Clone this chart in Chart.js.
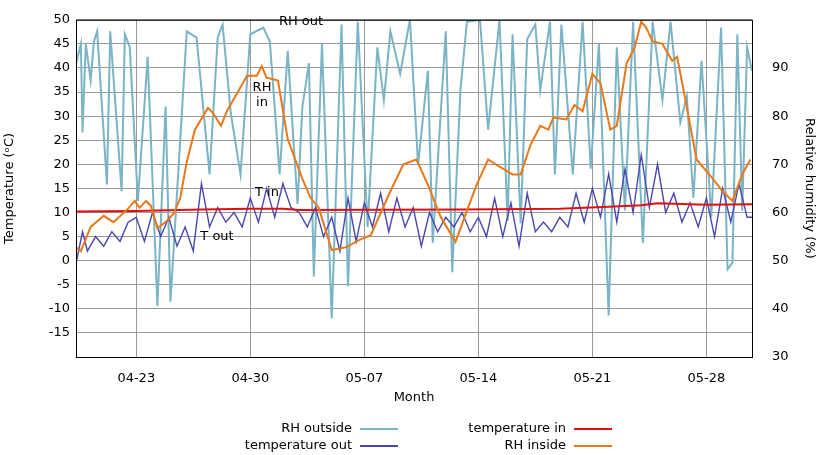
<!DOCTYPE html>
<html>
<head>
<meta charset="utf-8">
<script src="https://cdn.jsdelivr.net/npm/chart.js@4"></script>
<style>
  body { margin: 0; background: #fff; font-family: "DejaVu Sans", sans-serif; }
  #wrap { position: relative; width: 819px; height: 455px; }
  .leg { position: absolute; font-size: 13px; color: #000; }
  .leg span.t { position: absolute; right: 0; white-space: nowrap; }
  .leg span.l { position: absolute; height: 2px; width: 38px; }
</style>
</head>
<body>
<div id="wrap">
  <canvas id="c" width="819" height="455"></canvas>
  <div class="leg" style="left:0;top:420px;width:352px"><span class="t">RH outside</span></div>
  <div class="leg" style="left:0;top:437px;width:352px"><span class="t">temperature out</span></div>
  <div class="leg" style="left:0;top:420px;width:566px"><span class="t">temperature in</span></div>
  <div class="leg" style="left:0;top:437px;width:566px"><span class="t">RH inside</span></div>
  <div class="leg" style="left:360px;top:428px"><span class="l" style="background:#7ab4c6"></span></div>
  <div class="leg" style="left:360px;top:445px"><span class="l" style="background:#4848b0"></span></div>
  <div class="leg" style="left:574px;top:428px"><span class="l" style="background:#e01010"></span></div>
  <div class="leg" style="left:574px;top:445px"><span class="l" style="background:#e87818"></span></div>
</div>
<script>
// x values are days after 04-23
const tickLabels = ['04-23', '04-30', '05-07', '05-14', '05-21', '05-28'];

const tOutDays = [-3.7, -3.3, -3.0, -2.5, -2.0, -1.5, -1.0, -0.5, 0, 0.5, 1, 1.5, 2, 2.5, 3, 3.5, 4, 4.5, 5, 5.5, 6, 6.5, 7, 7.5, 8, 8.5, 9, 9.5,
  10, 10.5, 11, 11.5, 12, 12.5, 13, 13.5, 14, 14.5, 15, 15.5, 16, 16.5, 17, 17.5, 18, 18.5, 19, 19.5, 20, 20.5, 21, 21.5, 22, 22.5,
  23, 23.5, 24, 24.5, 25, 25.5, 26, 26.5, 27, 27.5, 28, 28.5, 29, 29.5, 30, 30.5, 31, 31.5, 32, 32.5, 33, 33.5, 34, 34.5, 35, 35.5,
  36, 36.5, 37, 37.5, 37.8];
const tOut = [-0.6, 6, 2, 5, 3, 6, 4, 8, 9, 4, 10, 5, 9, 3, 7, 2, 16, 7, 11, 8, 10, 7, 13, 8, 15, 9, 16, 11,
  10, 7, 11, 5, 9, 2, 13, 4, 12, 7, 14, 6, 13, 7, 11, 3, 10, 6, 9, 7, 10, 6, 9, 5, 13, 5,
  12, 3, 14, 6, 8, 6, 9, 7, 14, 8, 15, 9, 18, 8, 19, 10, 22, 11, 20, 10, 14, 8, 12, 7, 13, 5,
  15, 8, 16, 9, 9];

const tInDays = [-3.7, 0, 4, 7, 9, 10, 20, 26, 29, 31, 32, 35, 37.8];
const tIn = [10.2, 10.3, 10.6, 10.8, 10.8, 10.5, 10.6, 10.8, 11.2, 11.5, 11.9, 11.6, 11.7];

const rhInDays = [-3.7, -3.4, -2.8, -2.0, -1.4, -0.5, -0.1, 0.2, 0.6, 0.9, 1.3, 1.9, 2.3, 2.7, 3.1, 3.6, 4.4, 4.7, 5.2, 5.6, 6.2, 6.8,
  7.4, 7.7, 8.0, 8.7, 9.3, 10.2, 10.7, 11.2, 12.0, 12.9, 13.7, 14.4, 15.6, 16.4, 17.2, 17.9, 18.7, 19.6, 20.3, 20.9, 21.6, 22.3,
  23.1, 23.6, 24.2, 24.8, 25.3, 25.6, 26.4, 26.9, 27.4, 28.0, 28.5, 29.1, 29.5, 30.1, 30.6, 31.0, 31.3, 31.7, 32.3, 32.9, 33.2,
  33.6, 34.4, 35.4, 36.0, 36.6, 37.2, 37.7];
const rhIn = [52.8, 52, 57, 59.3, 58, 60.8, 62.4, 61, 62.4, 61.4, 56.7, 58.3, 59.8, 63, 70.5, 77.2, 81.7, 80.7, 78, 81.3, 84.8, 88.4,
  88.4, 90.4, 88, 87.4, 75.2, 67, 63, 61, 52.2, 52.8, 54.3, 55.3, 64.4, 70, 71, 65.8, 59, 53.9, 60.4, 65.8, 71, 69.5,
  67.9, 67.9, 74, 78, 77.2, 79.7, 79.3, 82.3, 81, 88.8, 86.8, 77.2, 78, 90.9, 94.3, 99.6, 98.4, 95.5, 95, 91.5, 92.3,
  85.4, 71, 67, 64.4, 62.4, 67.9, 71];

const rhOutDays = [-3.7, -3.4, -3.3, -3.1, -2.8, -2.6, -2.4, -1.8, -1.6, -0.9, -0.7, -0.4, 0.1, 0.7, 1.3, 1.8, 2.1, 3.1, 3.7, 4.5,
  5.0, 5.3, 5.8, 6.4, 7.0, 7.8, 8.2, 8.8, 9.3, 9.9, 10.2, 10.6, 10.9, 11.4, 12.0, 12.6, 13.0, 13.6, 14.2, 14.8, 15.2, 15.6,
  16.2, 16.8, 17.3, 17.9, 18.2, 19.0, 19.4, 19.9, 20.3, 21.1, 21.6, 22.3, 22.8, 23.1, 23.6, 24.0, 24.5, 24.8, 25.4, 25.7,
  26.1, 26.8, 27.4, 27.9, 28.4, 29.0, 29.5, 30.0, 30.5, 31.1, 31.7, 32.3, 32.8, 33.4, 33.8, 34.2, 34.7, 35.3, 35.9, 36.3,
  36.6, 36.9, 37.2, 37.5, 37.8];
const rhOut = [90.9, 95, 76.6, 95, 87.4, 95.5, 97.6, 65.8, 97.6, 64.4, 97, 94.3, 62.4, 92.3, 40.6, 82, 41.5, 97.6, 96.3, 67.9,
  96.3, 99, 80.7, 67.9, 97, 98.4, 95.5, 67.9, 93.5, 61.8, 82, 91, 46.7, 95, 38, 99, 44.7, 99.6, 57, 94.3, 83.3, 97.6,
  88.8, 100, 69.9, 89.4, 53.7, 97.6, 47.6, 85.4, 99.6, 100, 77.2, 100, 58.3, 97, 57.7, 96, 99, 85.4, 99.6, 67.9,
  99, 67.9, 99.6, 69.1, 95, 38.6, 94.3, 60.4, 99.6, 53.7, 99.6, 83.3, 99.6, 78.7, 84.1, 63, 91.5, 59, 98.4, 48.2,
  49.6, 97, 60.4, 94.3, 89.4];

function pts(xs, ys) { return xs.map((x, i) => ({ x: x, y: ys[i] })); }

const font = { family: 'DejaVu Sans', size: 13 };
const grid = { color: '#999', borderDash: [2, 3], drawTicks: false };

// labels drawn inside the plot + black frame
const extras = {
  id: 'extras',
  afterDatasetsDraw(chart) {
    const c = chart.ctx, a = chart.chartArea;
    c.save();
    c.strokeStyle = '#000'; c.lineWidth = 1;
    c.strokeRect(a.left + 0.5, a.top + 0.5, a.right - a.left, a.bottom - a.top);
    c.fillStyle = '#000';
    c.font = '13px "DejaVu Sans"';
    c.textAlign = 'center'; c.textBaseline = 'middle';
    c.fillText('RH out', 301, 22);
    c.fillText('RH', 262, 88);
    c.fillText('in', 262, 103);
    c.fillText('T in', 267, 193);
    c.fillText('T out', 217, 237);
    c.restore();
  }
};

new Chart(document.getElementById('c'), {
  type: 'line',
  data: {
    datasets: [
      { label: 'RH outside', data: pts(rhOutDays, rhOut), yAxisID: 'y2', borderColor: '#7ab4c6', borderWidth: 2, order: 4 },
      { label: 'temperature out', data: pts(tOutDays, tOut), yAxisID: 'y', borderColor: '#4848b0', borderWidth: 1.4, order: 3 },
      { label: 'temperature in', data: pts(tInDays, tIn), yAxisID: 'y', borderColor: '#e01010', borderWidth: 2, order: 2 },
      { label: 'RH inside', data: pts(rhInDays, rhIn), yAxisID: 'y2', borderColor: '#e87818', borderWidth: 2, order: 1 }
    ]
  },
  options: {
    responsive: false,
    animation: false,
    layout: { padding: { top: 15, left: 0, right: 0, bottom: 0 } },
    elements: { point: { radius: 0 }, line: { tension: 0 } },
    plugins: { legend: { display: false }, tooltip: { enabled: false } },
    scales: {
      x: {
        type: 'linear', min: -3.7, max: 37.8,
        afterBuildTicks: s => { s.ticks = [0, 7, 14, 21, 28, 35].map(v => ({ value: v })); },
        ticks: { font, color: '#000', padding: 14, callback: v => tickLabels[v / 7] },
        grid: grid, border: { display: false },
        title: { display: true, text: 'Month', font, color: '#000', padding: { top: 4, bottom: 50 } },
        afterFit: s => { s.height = 98; }
      },
      y: {
        position: 'left', min: -20, max: 50,
        ticks: { stepSize: 5, font, color: '#000', padding: 6, callback: v => v === -20 ? '' : v },
        grid: grid, border: { display: false },
        title: { display: true, text: 'Temperature (ᵒC)', font, color: '#000', padding: 2 },
        afterFit: s => { s.width = 76; }
      },
      y2: {
        position: 'right', min: 30, max: 100,
        ticks: { stepSize: 10, font, color: '#000', padding: 12, callback: v => v === 100 ? '' : v },
        grid: { display: false }, border: { display: false },
        title: { display: true, text: 'Relative humidity (%)', font, color: '#000', padding: 2 },
        afterFit: s => { s.width = 67; }
      }
    }
  },
  plugins: [extras]
});
</script>
</body>
</html>
